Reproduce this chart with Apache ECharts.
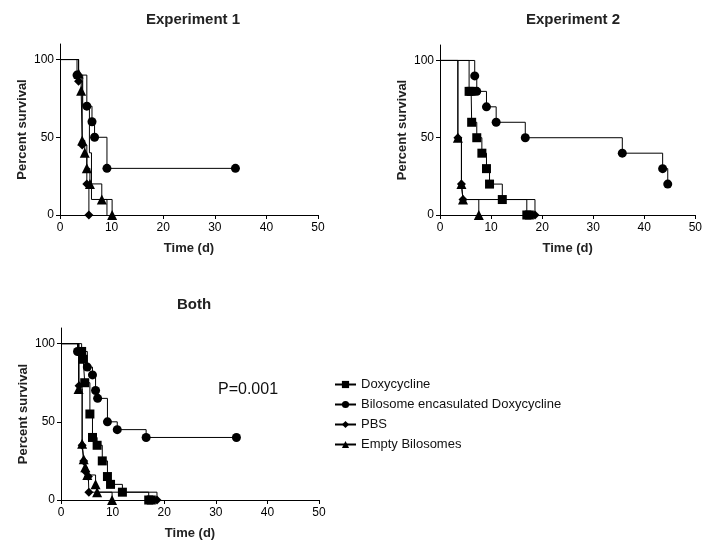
<!DOCTYPE html>
<html>
<head>
<meta charset="utf-8">
<script src="https://cdn.jsdelivr.net/npm/echarts@6/dist/echarts.min.js"></script>
<style>
html,body{margin:0;padding:0;background:#fff;}
#chart{width:705px;height:542px;}
</style>
</head>
<body>
<div id="chart"></div>
<script>
// ---- data ----
const groupNames = ['Doxycycline', 'Bilosome encasulated Doxycycline', 'PBS', 'Empty Bilosomes'];
const panelTitles = ['Experiment 1', 'Experiment 2', 'Both'];
const xTickValues = [0, 10, 20, 30, 40, 50];
const yTickValues = [0, 50, 100];
const pValueText = 'P=0.001';

// Experiment 1: [day, percent survival]
const exp1Doxy  = [[0,100],[3.6,90],[4.4,70],[5.7,40],[6.1,10],[9.1,0]];
const exp1Bilo  = [[0,100],[3.3,90],[5.2,70],[6.2,60],[6.7,50],[9.1,30],[34,30]];
const exp1PBS   = [[0,100],[3.6,86],[4.3,45],[5.2,20],[5.6,0]];
const exp1Empty = [[0,100],[3.6,91],[4.1,80],[4.3,48],[4.8,40],[5.2,30],[5.8,20],[8.1,10],[10.1,0]];

// Experiment 2
const exp2Doxy  = [[0,100],[5.7,80],[6.1,80],[6.2,60],[7.2,50],[8.2,40],[9.1,30],[9.7,20],[12.2,10],[17.0,0],[17.5,0]];
const exp2Bilo  = [[0,100],[6.8,90],[7.2,80],[9.1,70],[11.0,60],[16.7,50],[35.7,40],[43.6,30],[44.6,20]];
const exp2PBS   = [[0,100],[3.5,50],[4.2,20],[4.5,10],[18.6,0]];
const exp2Empty = [[0,100],[3.5,50],[4.2,20],[4.5,10],[7.6,0]];

// Both experiments pooled
const bothDoxy  = [[0,100],[4.0,95],[4.3,90],[4.6,75],[5.6,55],[6.1,40],[7.0,35],[8.0,25],[9.0,15],[9.6,10],[11.9,5],[17.0,0],[17.5,0]];
const bothBilo  = [[0,100],[3.2,95],[5.1,85],[6.1,80],[6.7,70],[7.1,65],[9.0,50],[10.9,45],[16.5,40],[34,40]];
const bothPBS   = [[0,100],[3.5,73],[4.1,35],[4.4,25],[4.8,18],[5.3,15],[5.4,5],[18.6,0]];
const bothEmpty = [[0,100],[3.4,71],[4.1,36],[4.4,26],[4.7,21],[5.1,16],[6.7,10],[7.0,5],[9.9,0]];

const panels = [
  [exp1Doxy, exp1Bilo, exp1PBS, exp1Empty],
  [exp2Doxy, exp2Bilo, exp2PBS, exp2Empty],
  [bothDoxy, bothBilo, bothPBS, bothEmpty]
];

// ---- presentation ----
const FONT = '"Liberation Sans", Arial, sans-serif';
const symbols = ['rect', 'circle', 'diamond', 'triangle'];
const symbolSizes = [9, 9, 9, 10];
// In the Experiment 1 panel the Doxycycline markers are not distinguishable (overdrawn)
const markerHidden = [[true, false, false, false], [false, false, false, false], [false, false, false, false]];
const grids = [
  {left: 60, top: 44, width: 258, height: 171},
  {left: 440, top: 45, width: 258, height: 170},
  {left: 61, top: 328, width: 258, height: 172}
];
const titlePos = [[188, 7], [568, 7], [189, 292]];

const xAxes = [], yAxes = [], series = [], titles = [];
grids.forEach((g, i) => {
  titles.push({
    text: panelTitles[i], left: titlePos[i][0], top: titlePos[i][1], textAlign: 'center',
    textStyle: {fontFamily: FONT, fontSize: 15, fontWeight: 'bold', color: '#222'}
  });
  xAxes.push({
    type: 'value', gridIndex: i, min: 0, max: 50, interval: 10,
    name: 'Time (d)', nameLocation: 'middle', nameGap: 27,
    nameTextStyle: {fontFamily: FONT, fontSize: 13, fontWeight: 'bold', color: '#222'},
    axisLine: {show: true, onZero: false, lineStyle: {color: '#000', width: 1}},
    axisTick: {show: true, length: 4, customValues: xTickValues, lineStyle: {color: '#000'}},
    axisLabel: {fontFamily: FONT, fontSize: 12, color: '#000', margin: 7, customValues: xTickValues},
    splitLine: {show: false}
  });
  yAxes.push({
    type: 'value', gridIndex: i, min: 0, max: 110,
    name: 'Percent survival', nameLocation: 'middle', nameGap: 31,
    nameTextStyle: {fontFamily: FONT, fontSize: 13, fontWeight: 'bold', color: '#222'},
    axisLine: {show: true, onZero: false, lineStyle: {color: '#000', width: 1}},
    axisTick: {show: true, length: 4, customValues: yTickValues, lineStyle: {color: '#000'}},
    axisLabel: {fontFamily: FONT, fontSize: 12, color: '#000', margin: 6, customValues: yTickValues},
    splitLine: {show: false}
  });
  panels[i].forEach((arr, k) => {
    const hide = markerHidden[i][k];
    series.push({
      type: 'line', name: groupNames[k], xAxisIndex: i, yAxisIndex: i,
      step: 'end', clip: false,
      symbol: symbols[k], symbolSize: symbolSizes[k], showSymbol: true,
      lineStyle: {color: '#000', width: 1},
      itemStyle: {color: '#000'},
      data: arr.map((p, j) => (j === 0 || hide) ? {value: p, symbol: 'none'} : {value: p}),
      silent: true
    });
  });
});

const chart = echarts.init(document.getElementById('chart'), null, {renderer: 'canvas'});
chart.setOption({
  animation: false,
  backgroundColor: '#fff',
  title: titles,
  grid: grids,
  xAxis: xAxes,
  yAxis: yAxes,
  legend: {
    data: groupNames, orient: 'vertical', left: 334, top: 378, padding: 0,
    itemWidth: 21, itemHeight: 9, itemGap: 7, itemTextGap: 7,
    textStyle: {fontFamily: FONT, fontSize: 13, color: '#111'},
    selectedMode: false
  },
  graphic: [{
    type: 'text', left: 218, top: 382,
    style: {text: pValueText, fontFamily: FONT, fontSize: 16, fill: '#111'}
  }],
  series: series
});
</script>
</body>
</html>
